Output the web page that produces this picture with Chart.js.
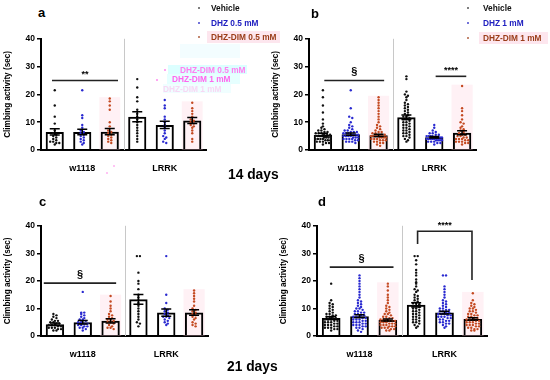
<!DOCTYPE html>
<html><head><meta charset="utf-8">
<script src="https://cdn.jsdelivr.net/npm/chart.js@4.4.0/dist/chart.umd.min.js"></script>
<style>
body{margin:0;width:550px;height:380px;background:#fff;position:relative;overflow:hidden;font-family:"Liberation Sans",Arial,sans-serif;}
canvas{position:absolute;}
.t{position:absolute;font-weight:bold;white-space:nowrap;line-height:1;}
.bx{position:absolute;}
.dot{position:absolute;width:2px;height:2px;border-radius:1px;}
</style></head><body>
<canvas id="ca" width="215" height="145" style="left:0;top:30px"></canvas>
<canvas id="cb" width="217" height="145" style="left:268px;top:30px"></canvas>
<canvas id="cc" width="217" height="144" style="left:0;top:217px"></canvas>
<canvas id="cd" width="220" height="144" style="left:276px;top:217px"></canvas>

<!-- ghost overlay artifacts (panel a) -->
<div class="bx" style="left:180px;top:44px;width:60px;height:14px;background:#f3fdff"></div>
<div class="bx" style="left:168px;top:65px;width:79px;height:9px;background:#dcffff"></div>
<div class="bx" style="left:167px;top:74px;width:73px;height:10px;background:#e6ffff"></div>
<div class="bx" style="left:163px;top:84px;width:68px;height:9px;background:#f0feff"></div>
<div class="t" style="left:180px;top:66px;font-size:8.3px;color:#ff7ef0">DHZ-DIM 0.5 mM</div>
<div class="t" style="left:172px;top:75px;font-size:8.3px;color:#ff66ee">DHZ-DIM 1 mM</div>
<div class="t" style="left:163px;top:85px;font-size:8.3px;color:#f7d8f4">DHZ-DIM 1 mM</div>
<div class="dot" style="left:164px;top:69px;background:#ff88ee"></div>
<div class="dot" style="left:156px;top:79px;background:#ff88ee"></div>
<div class="dot" style="left:113px;top:165px;background:#ffb0f0"></div>
<div class="dot" style="left:106px;top:172px;background:#ffb0f0"></div>

<!-- panel letters -->
<div class="t" style="left:38px;top:6px;font-size:13px;color:#000">a</div>
<div class="t" style="left:311px;top:7px;font-size:13px;color:#000">b</div>
<div class="t" style="left:39px;top:195px;font-size:13px;color:#000">c</div>
<div class="t" style="left:318px;top:195px;font-size:13px;color:#000">d</div>

<!-- legends -->
<div class="dot" style="left:198px;top:7px;background:#555"></div>
<div class="dot" style="left:198px;top:22px;background:#4444cc"></div>
<div class="dot" style="left:198px;top:36px;background:#b06040"></div>
<div class="bx" style="left:207px;top:31px;width:73px;height:12px;background:#fde6ee"></div>
<div class="t" style="left:211px;top:3.5px;font-size:8.3px;color:#111">Vehicle</div>
<div class="t" style="left:211px;top:18.5px;font-size:8.3px;color:#2020c0">DHZ 0.5 mM</div>
<div class="t" style="left:211px;top:32.5px;font-size:8.3px;color:#9a3c18">DHZ-DIM 0.5 mM</div>

<div class="dot" style="left:467px;top:7px;background:#555"></div>
<div class="dot" style="left:467px;top:22px;background:#4444cc"></div>
<div class="dot" style="left:467px;top:37px;background:#b06040"></div>
<div class="bx" style="left:479px;top:32px;width:69px;height:12px;background:#fde6ee"></div>
<div class="t" style="left:483px;top:3.5px;font-size:8.3px;color:#111">Vehicle</div>
<div class="t" style="left:483px;top:18.5px;font-size:8.3px;color:#2020c0">DHZ 1 mM</div>
<div class="t" style="left:483px;top:33.5px;font-size:8.3px;color:#9a3c18">DHZ-DIM 1 mM</div>

<div class="t" style="left:228px;top:168px;font-size:13.8px;color:#000">14 days</div>
<div class="t" style="left:227px;top:360px;font-size:13.8px;color:#000">21 days</div>

<script>
// ---------- data ----------
const categories = ['', 'w1118', '', '', 'LRRK', ''];
const yTicks = [0, 10, 20, 30, 40];
const yTitle = 'Climbing activity (sec)';

// bar means and SEM, order: w1118 Veh, DHZ, DHZ-DIM, LRRK Veh, DHZ, DHZ-DIM
const meansA = [6.5, 6.5, 6.6, 12.0, 9.0, 10.6];
const semA   = [1.1, 1.0, 1.1, 1.8, 1.3, 1.1];
const meansB = [5.5, 5.7, 5.3, 11.8, 4.6, 6.2];
const semB   = [0.5, 0.4, 0.4, 0.8, 0.3, 0.7];
const meansC = [4.3, 5.0, 5.5, 13.3, 8.5, 8.5];
const semC   = [0.4, 0.6, 0.8, 1.8, 1.3, 1.0];
const meansD = [6.5, 7.2, 5.8, 11.3, 8.5, 6.2];
const semD   = [0.5, 0.5, 0.4, 0.8, 0.5, 0.4];

// individual flies (sec)
const aWVeh = [21.5,16,12,9.5,7,6,5.5,5,4.5,4,3.5,3,3,2.5,2.5,2];
const aWDhz = [21.5,12.5,11.5,9,8,7,6.5,6,5.5,5,4.5,4,3.5,3,2.5,2];
const aWDim = [18.5,17.5,16,14.5,10,8.5,7,6.5,6,5.5,5,4.5,4,3.5,3,2.5];
const aLVeh = [25.5,22.5,19,17.5,14.5,13,12,11,10,9,8,7,6,5,4,3];
const aLDhz = [21,18,16,15,12,11,10,9,8,7,6,5,4.5,4,3,2.5];
const aLDim = [17,15,14,13,12,11,10.5,10,9.5,9,8.5,8,7,6,4,3];

const bWVeh = [21.5,19,16,13.5,11,9.5,8.5,8,7.5,7,7,6.5,6.5,6,6,6,5.5,5.5,5.5,5,5,5,5,4.5,4.5,4.5,4.5,4,4,4,4,3.5,3.5,3.5,3,3,3,2.5,2.5,2];
const bWDhz = [21.5,15,12,11.5,10,9,8.5,8,7.5,7,7,6.5,6.5,6.5,6,6,6,5.5,5.5,5.5,5.5,5,5,5,5,4.5,4.5,4.5,4,4,4,4,3.5,3.5,3,3,3,2.5];
const bWDim = [19,18,17,16,15,14,13,12,11,10,9,8.5,8,7.5,7,6.5,6.5,6,6,5.5,5.5,5.5,5,5,5,5,4.5,4.5,4.5,4.5,4,4,4,3.5,3.5,3.5,3,3,2.5,2.5,2,1.5];
const bLVeh = [26.5,25.5,21,20,19.5,19,18,17,16.5,16,15.5,15,14.5,14,13.5,13,12.5,12,12,11.5,11,11,10.5,10,10,9.5,9,9,8.5,8,8,7.5,7,7,6.5,6,6,5.5,5,5,4.5,4,3.5,3];
const bLDhz = [9,8,7,6.5,6,6,5.5,5.5,5,5,5,5,4.5,4.5,4.5,4.5,4.5,4,4,4,4,4,3.5,3.5,3.5,3.5,3,3,3,2.5,2.5,2];
const bLDim = [23,15,14,12.5,11,10,9.5,8.5,8,7.5,7,6.5,6,5.5,5.5,5,5,4.5,4.5,4,4,4,3.5,3.5,3,3,3,2.5,2.5,2];

const cWVeh = [8,7.5,7,6.5,6,5.5,5.5,5,5,4.5,4.5,4,4,4,3.5,3.5,3,3,3,2.5,2.5,2,2];
const cWDhz = [16,8.5,8.5,8,7.5,7,6.5,6,6,5.5,5,5,4.5,4.5,4,4,3.5,3.5,3,3,2.5,2];
const cWDim = [14.5,12.5,11,10,9,8,7.5,7,6.5,6,6,5.5,5,5,4.5,4,3.5,3,3,2.5];
const cLVeh = [29,29,23,20,19,17,15,14,13,12,11,10,9,8,7,6,5,4.5,3.5];
const cLDhz = [29,15,12,10,9.5,9,8.5,8,7.5,7,7,6.5,6,5.5,5,4.5,4];
const cLDim = [16.5,15.5,14.5,13.5,12.5,11,10,9.5,9,8.5,8,7.5,7,6.5,6,5,4.5,4,3.5];

const dWVeh = [19,13,12,11.5,11,10.5,10,9.5,9,8.5,8,8,7.5,7.5,7,7,6.5,6.5,6,6,6,5.5,5.5,5,5,5,4.5,4.5,4,4,4,3.5,3.5,3,3,3,2.5,2.5,2];
const dWDhz = [22,21,20,19,18,17,16,15,14,13,12.5,12,11.5,11,10.5,10,10,9.5,9,9,8.5,8.5,8,8,7.5,7.5,7,7,7,6.5,6.5,6,6,6,5.5,5.5,5,5,5,4.5,4.5,4,4,4,3.5,3.5,3,3,2.5,2,1.5];
const dWDim = [19,18,16.5,15,14,13,12,11,10.5,10,9.5,9,8.5,8,8,7.5,7,7,6.5,6.5,6,6,6,5.5,5.5,5.5,5,5,5,4.5,4.5,4.5,4,4,4,3.5,3.5,3.5,3,3,3,2.5,2.5,2,2];
const dLVeh = [29,29,27.5,26,24,23,22,20.5,19.5,19,18,17,16.5,16,15,14.5,14,13.5,13,12.5,12,12,11.5,11,11,10.5,10,10,9.5,9,9,8.5,8,8,7.5,7,7,6.5,6,6,5.5,5,5,4.5,4,3.5,3];
const dLDhz = [22,22,18,17,16,15,14,13,12.5,12,11.5,11,10.5,10,10,9.5,9.5,9,9,8.5,8.5,8,8,8,7.5,7.5,7,7,7,6.5,6.5,6,6,5.5,5.5,5,5,4.5,4.5,4,3.5,3];
const dLDim = [15.5,13,12,11.5,11,10.5,10,10,9.5,9,9,8.5,8,8,7.5,7.5,7,7,6.5,6.5,6,6,6,5.5,5.5,5,5,5,4.5,4.5,4,4,4,3.5,3.5,3,3,2.5,2.5,2,2];

// significance marks: [from bar index, to bar index, level (sec), label]
const sigA = [[-0.1, 2.3, 25, '**']];
const sigB = [[0.05, 2.2, 25, '§'], [4.05, 5.15, 26.5, '****']];
const sigC = [[-0.4, 2.2, 19.2, '§']];
const sigD = [[-0.05, 2.2, 25, '§']];
const bracketD = [[3.05, 4.97, 38, 33.4, 20.3, '****']];

// ---------- drawing ----------
const dotColors = ['#111111', '#2a2ad0', '#c44a22'];
const FONT = '"Liberation Sans", Arial, sans-serif';

function swarm(vals, center) {
  const bins = {};
  vals.forEach(v => { const b = Math.round(v); bins[b] = (bins[b] || 0) + 1; });
  const seen = {};
  return vals.map(v => {
    const b = Math.round(v); const k = bins[b];
    const j = seen[b] = (seen[b] === undefined ? 0 : seen[b] + 1);
    const step = Math.min(0.11, 0.62 / k);
    return {x: center + (j - (k - 1) / 2) * step, y: v};
  });
}

const panelPlugin = {
  id: 'panel',
  beforeDatasetsDraw(chart, args, o) {
    const c = chart.ctx, xs = chart.scales.xl, ys = chart.scales.y, ca = chart.chartArea;
    c.save();
    [2, 5].forEach(i => {
      const mx = Math.max(...o.points[i]);
      const x0 = xs.getPixelForValue(i - 0.38), x1 = xs.getPixelForValue(i + 0.38);
      const y0 = ys.getPixelForValue(mx + 0.5), y1 = ys.getPixelForValue(0);
      c.fillStyle = 'rgba(255,205,220,0.28)';
      c.fillRect(x0, y0, x1 - x0, y1 - y0);
    });
    const xd = Math.round(xs.getPixelForValue(2.5)) + 0.5;
    c.strokeStyle = '#c8c8c8'; c.lineWidth = 1;
    c.beginPath(); c.moveTo(xd, ca.top); c.lineTo(xd, ca.bottom); c.stroke();
    c.restore();
  },
  afterDatasetsDraw(chart, args, o) {
    const c = chart.ctx, xs = chart.scales.xl, ys = chart.scales.y;
    c.save(); c.strokeStyle = '#000'; c.lineWidth = 1.5;
    o.means.forEach((m, i) => {
      const x = xs.getPixelForValue(i), yt = ys.getPixelForValue(m + o.sems[i]), yb = ys.getPixelForValue(m - o.sems[i]);
      c.beginPath();
      c.moveTo(x, yt); c.lineTo(x, yb);
      c.moveTo(x - 5, yt); c.lineTo(x + 5, yt);
      c.moveTo(x - 5, yb); c.lineTo(x + 5, yb);
      c.stroke();
    });
    c.restore();
  },
  afterDraw(chart, args, o) {
    const c = chart.ctx, xs = chart.scales.xl, ys = chart.scales.y;
    c.save(); c.strokeStyle = '#222'; c.fillStyle = '#000'; c.lineWidth = 1.6;
    c.textAlign = 'center'; c.textBaseline = 'bottom';
    (o.sigs || []).forEach(s => {
      const x0 = xs.getPixelForValue(s[0]), x1 = xs.getPixelForValue(s[1]), y = ys.getPixelForValue(s[2]);
      c.beginPath(); c.moveTo(x0, y); c.lineTo(x1, y); c.stroke();
      c.font = (s[3] === '§' ? 'bold 11px ' : 'bold 9px ') + FONT;
      c.fillText(s[3], (x0 + x1) / 2, y - (s[3] === '§' ? 3 : 1));
    });
    (o.brackets || []).forEach(s => {
      const x0 = xs.getPixelForValue(s[0]), x1 = xs.getPixelForValue(s[1]), y = ys.getPixelForValue(s[2]);
      c.beginPath();
      c.moveTo(x0, ys.getPixelForValue(s[3])); c.lineTo(x0, y); c.lineTo(x1, y); c.lineTo(x1, ys.getPixelForValue(s[4]));
      c.stroke();
      c.font = 'bold 9px ' + FONT;
      c.fillText(s[5], (x0 + x1) / 2, y - 1);
    });
    c.restore();
  }
};

function makePanel(id, means, sems, pts, sigs, brackets) {
  const scatterSets = [0, 1, 2].map(t => ({
    type: 'scatter', xAxisID: 'xl', yAxisID: 'y', order: 1,
    data: swarm(pts[t], t).concat(swarm(pts[t + 3], t + 3)),
    pointRadius: 1.2, pointBackgroundColor: dotColors[t], pointBorderWidth: 0
  }));
  new Chart(document.getElementById(id), {
    data: {
      labels: categories,
      datasets: [{
        type: 'bar', xAxisID: 'x', yAxisID: 'y', order: 3, data: means, grouped: false,
        backgroundColor: 'rgba(255,255,255,0)', borderColor: '#000', borderWidth: 2,
        barPercentage: 0.66, categoryPercentage: 1
      }].concat(scatterSets)
    },
    options: {
      responsive: false, animation: false, devicePixelRatio: 1, events: [],
      layout: {padding: {top: 8.8, right: 9, left: 0, bottom: 0}},
      plugins: {
        legend: {display: false}, tooltip: {enabled: false},
        panel: {means: means, sems: sems, points: pts, sigs: sigs, brackets: brackets}
      },
      scales: {
        x: {
          type: 'category', offset: true, grid: {display: false},
          border: {color: '#000', width: 2},
          ticks: {autoSkip: false, maxRotation: 0, color: '#000', padding: 5, font: {family: FONT, size: 9, weight: 'bold'}},
          afterFit(s) { s.height = 25; }
        },
        xl: {type: 'linear', display: false, min: -0.5, max: 5.5},
        y: {
          min: 0, max: 40,
          afterBuildTicks(s) { s.ticks = yTicks.map(v => ({value: v})); },
          grid: {drawOnChartArea: false, drawTicks: true, tickLength: 4, color: '#000', lineWidth: 1.5},
          border: {color: '#000', width: 2},
          ticks: {color: '#000', padding: 2, font: {family: FONT, size: 8.5, weight: 'bold'}},
          title: {display: true, text: yTitle, color: '#000', padding: {top: 3, bottom: 0}, font: {family: FONT, size: 8.2, weight: 'bold'}},
          afterFit(s) { s.width = 41; }
        }
      }
    },
    plugins: [panelPlugin]
  });
}

makePanel('ca', meansA, semA, [aWVeh, aWDhz, aWDim, aLVeh, aLDhz, aLDim], sigA, []);
makePanel('cb', meansB, semB, [bWVeh, bWDhz, bWDim, bLVeh, bLDhz, bLDim], sigB, []);
makePanel('cc', meansC, semC, [cWVeh, cWDhz, cWDim, cLVeh, cLDhz, cLDim], sigC, []);
makePanel('cd', meansD, semD, [dWVeh, dWDhz, dWDim, dLVeh, dLDhz, dLDim], sigD, bracketD);
</script>
</body></html>
